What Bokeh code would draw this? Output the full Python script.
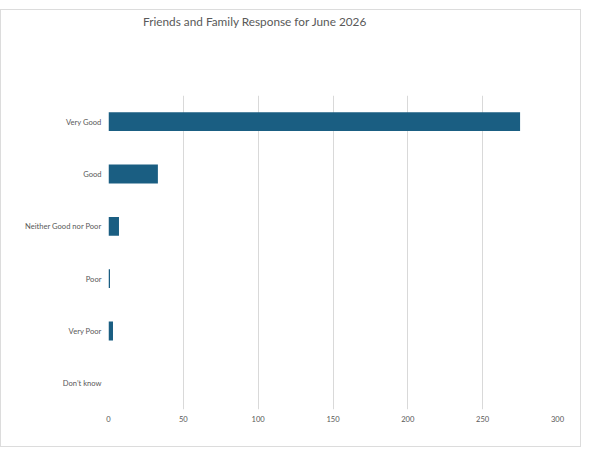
from bokeh.plotting import figure
from bokeh.models import FactorRange, Range1d, ColumnDataSource, FixedTicker, Div
from bokeh.layouts import column
from bokeh.embed import file_html
from bokeh.resources import INLINE

title_text = "Friends and Family Response for June 2026"
categories = ["Very Good", "Good", "Neither Good nor Poor", "Poor", "Very Poor", "Don\u2019t know"]
responses = [275, 33, 7, 1, 3, 0]
x_ticks = [0, 50, 100, 150, 200, 250, 300]

src = ColumnDataSource(dict(cat=categories, val=responses))

p = figure(
    y_range=FactorRange(*list(reversed(categories)), range_padding=0),
    x_range=Range1d(0, 300),
    width=579, height=361,
    output_backend="svg", toolbar_location=None,
    min_border_left=107, min_border_right=23, min_border_top=10, min_border_bottom=37,
)
p.hbar(y="cat", right="val", left=0, height=0.36, source=src,
       fill_color="#1a5e82", line_color=None)

p.outline_line_color = None
p.background_fill_color = "white"
p.border_fill_color = "white"

p.ygrid.grid_line_color = None
p.xgrid.grid_line_color = "#d9d9d9"
p.xaxis.ticker = FixedTicker(ticks=x_ticks)

for ax in (p.xaxis, p.yaxis):
    ax.axis_line_color = None
    ax.major_tick_line_color = None
    ax.minor_tick_line_color = None
    ax.major_tick_out = 0
    ax.major_tick_in = 0
    ax.major_label_text_font = "Lato"
    ax.major_label_text_font_size = "7.6px"
    ax.major_label_text_color = "#595959"
p.yaxis.major_label_standoff = 7
p.xaxis.major_label_standoff = 6

title = Div(
    text=title_text, width=579, height=75, margin=0,
    styles={"padding-left": "142px", "padding-top": "5px", "box-sizing": "border-box",
            "font-family": "Lato", "font-size": "11.8px", "color": "#595959",
            "line-height": "14px", "background": "white"},
)

layout = column(title, p, spacing=0,
                styles={"border": "1px solid #dcdcdc", "margin-top": "9px", "background": "white"})

open("out.html", "w").write(file_html(layout, INLINE))
